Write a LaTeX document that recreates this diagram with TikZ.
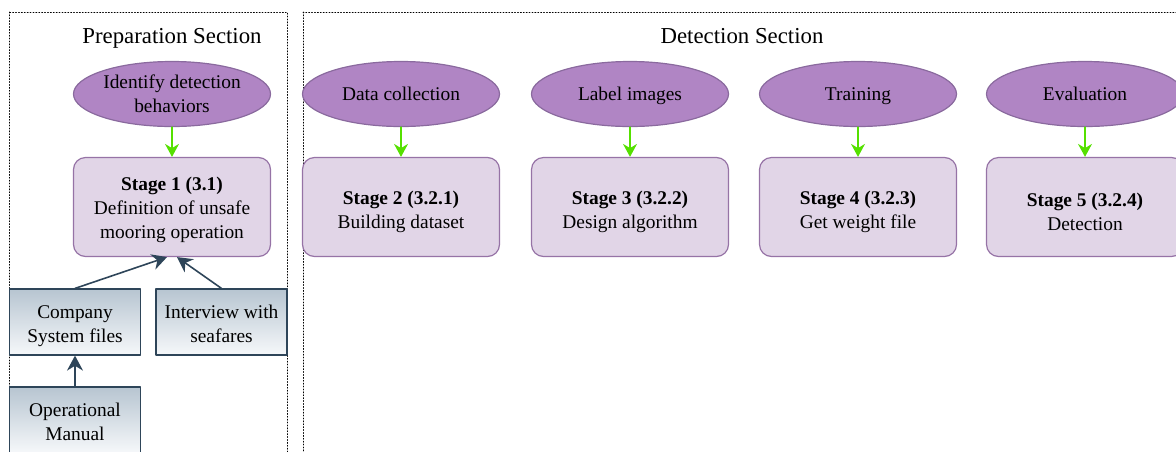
\documentclass[tikz,border=0pt]{standalone}
\usepackage{fontspec}
\setmainfont{Liberation Serif}
\usetikzlibrary{arrows.meta,shapes.geometric}
\definecolor{taskfill}{HTML}{B085C4}
\definecolor{taskdraw}{HTML}{8A6A9E}
\definecolor{stagefill}{HTML}{E1D5E7}
\definecolor{stagedraw}{HTML}{9673A6}
\definecolor{srctop}{HTML}{B7C5D1}
\definecolor{srcbot}{HTML}{F6F8FA}
\definecolor{srcdraw}{HTML}{2E4559}
\definecolor{feedgreen}{HTML}{55E000}
% invisible strut, pushes the text of a node down
\newcommand{\textdrop}[1]{\rule{0pt}{#1}}

\begin{document}
\begin{tikzpicture}[line cap=round,line join=round,x=0.5pt,y=-0.5pt,
    nodefont/.style={font=\fontsize{9.7}{12}\selectfont},
    task/.style={ellipse,draw=taskdraw,fill=taskfill,line width=0.6pt,minimum width=98.5pt,minimum height=32.5pt,inner sep=0pt,align=center,nodefont},
    stage/.style={rectangle,rounded corners=6pt,draw=stagedraw,fill=stagefill,line width=0.6pt,minimum width=98.5pt,minimum height=49.5pt,align=center,nodefont},
    source/.style={rectangle,draw=srcdraw,top color=srctop,bottom color=srcbot,minimum width=65.5pt,minimum height=33pt,inner sep=1pt,align=center,nodefont,line width=0.6pt},
    feed/.style={-{Stealth[length=6.5pt,width=7pt]},color=feedgreen,line width=0.8pt},
    input/.style={-{Stealth[length=7.5pt,width=8pt]},color=srcdraw,line width=0.8pt},
    section/.style={draw=black,densely dotted,line width=0.45pt},
    title/.style={font=\fontsize{11.4}{13}\selectfont,text height=8pt,text depth=2.5pt}]
    \useasboundingbox (0,0) rectangle (1176,451);
    \clip (0,0) rectangle (1176,451);
    % sections
    \draw[section] (9,12) rectangle (287,470);
    \draw[section] (303,12) rectangle (1220,470);
    \node[title] (preptitle) at (172,38) {Preparation Section};
    \node[title] (dettitle) at (742,38) {Detection Section};
    % preparation
    \node[task] (task1) at (172,94) {Identify detection\\behaviors};
    \node[stage] (stage1) at (172,207) {\textdrop{10pt}\textbf{Stage 1 (3.1)}\\Definition of unsafe\\mooring operation};
    \draw[feed] (task1) -- (stage1);
    \node[source] (company) at (75,322) {\textdrop{11pt}Company\\System files};
    \node[source] (interview) at (221.5,322) {\textdrop{9pt}Interview with\\seafares};
    \node[source] (manual) at (75,420) {\textdrop{8.5pt}Operational\\Manual};
    \draw[input] (company.north) -- ([xshift=-2.5pt]stage1.south);
    \draw[input] (interview.north) -- ([xshift=2.5pt]stage1.south);
    \draw[input] (manual) -- (company);
    % detection
    \foreach \x/\n/\tname/\secno/\what in {401/2/Data collection/3.2.1/Building dataset,
        630/3/Label images/3.2.2/Design algorithm,
        858/4/Training/3.2.3/Get weight file,
        1085/5/Evaluation/3.2.4/Detection}
    {
    \node[task,text height=9pt,text depth=2.2pt] (task\n) at (\x,94) {\tname};
    \node[stage] (stage\n) at (\x,207) {\textdrop{11.5pt}\textbf{Stage \n\ (\secno)}\\\what};
    \draw[feed] (task\n) -- (stage\n);
    }
\end{tikzpicture}
\end{document}
